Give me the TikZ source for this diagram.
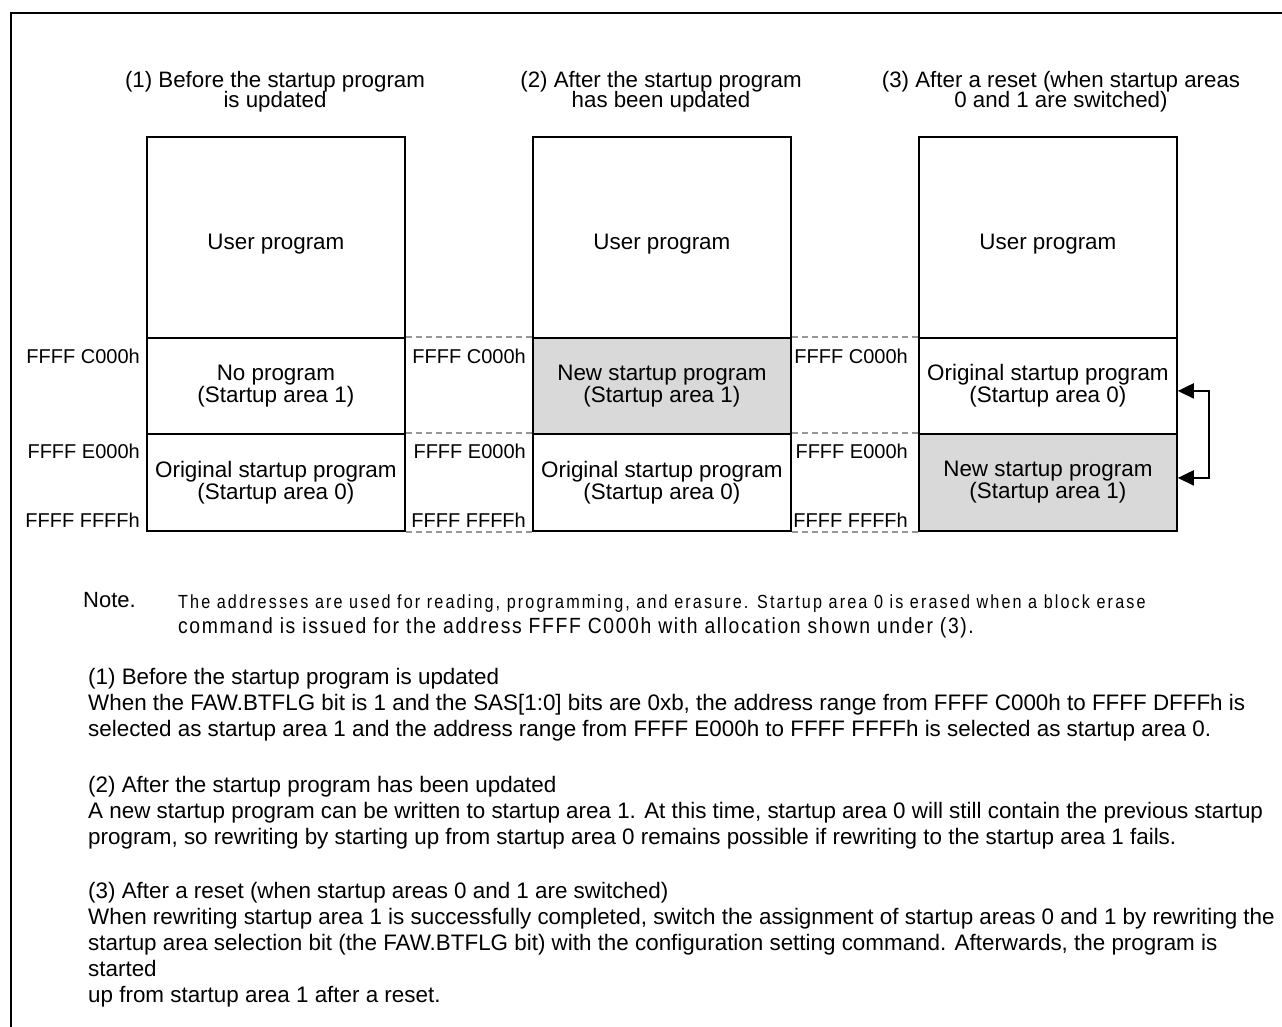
\documentclass[tikz,border=0pt]{standalone}
\usepackage{fontspec}
\setmainfont{Liberation Sans}
\newfontfamily\notefont[FakeStretch=0.85,LetterSpace=11.2]{Liberation Sans}
\newfontfamily\notefontb[FakeStretch=0.88,LetterSpace=7.3]{Liberation Sans}
\usetikzlibrary{arrows.meta}
\definecolor{areafill}{RGB}{217,217,217}
\definecolor{guide}{RGB}{150,150,150}
\tikzset{
  region/.style={draw, line width=1.8pt, inner sep=0pt, minimum width=258pt,
    anchor=north west, align=center,
    font=\fontsize{22.4}{22}\selectfont},
  newprog/.style={region, fill=areafill},
  areatext/.style={inner sep=0pt, font=\fontsize{22.4}{22}\selectfont},
  addr/.style={anchor=base east, inner sep=0pt, font=\fontsize{20}{20}\selectfont},
  title/.style={anchor=base, inner sep=0pt, font=\fontsize{22.3}{22}\selectfont},
  bodyline/.style={anchor=base west, inner sep=0pt, font=\fontsize{22.4}{26}\selectfont},
  guideline/.style={draw=guide, line width=1.4pt, dash pattern=on 6pt off 4pt},
  swaparrow/.style={line width=2pt,
    arrows={Triangle[length=16pt,width=15pt]-Triangle[length=16pt,width=15pt]}}
}
\begin{document}
\begin{tikzpicture}[x=1pt,y=-1pt]
\useasboundingbox (0,0) rectangle (1282,1026);
% outer frame, running off the right and bottom edges
\draw[line width=2.6pt] (11,1030) -- (11,13) -- (1290,13);

% column titles
\node[title] (t1a) at (275,87)  {(1) Before the startup program};
\node[title] (t1b) at (275,107) {is updated};
\node[title] (t2a) at (661,87)  {(2) After the startup program};
\node[title] (t2b) at (661,107) {has been updated};
\node[title] (t3a) at (1061,87) {(3) After a reset (when startup areas};
\node[title] (t3b) at (1061,107) {0 and 1 are switched)};

% memory map (1)
\node[region, minimum height=201pt] (user1) at (146,136) {};
\node[areatext] (ut1) at ([yshift=-7pt]user1.center) {User program};
\node[region, minimum height=96pt]  (mid1)  at (146,337) {No program\\(Startup area 1)};
\node[region, minimum height=97pt]  (low1)  at (146,433) {Original startup program\\(Startup area 0)};

% memory map (2)
\node[region, minimum height=201pt] (user2) at (532,136) {};
\node[areatext] (ut2) at ([yshift=-7pt]user2.center) {User program};
\node[newprog, minimum height=96pt] (mid2)  at (532,337) {New startup program\\(Startup area 1)};
\node[region, minimum height=97pt]  (low2)  at (532,433) {Original startup program\\(Startup area 0)};

% memory map (3)
\node[region, minimum height=201pt] (user3) at (918,136) {};
\node[areatext] (ut3) at ([yshift=-7pt]user3.center) {User program};
\node[region, minimum height=96pt]  (mid3)  at (918,337) {Original startup program\\(Startup area 0)};
\node[newprog, minimum height=97pt] (low3)  at (918,433) {New startup program\\(Startup area 1)};

% dashed boundary guides between the maps
\draw[guideline] (mid1.north east) -- (mid2.north west);
\draw[guideline] (low1.north east) -- (low2.north west);
\draw[guideline] (low1.south east) -- (low2.south west);
\draw[guideline] (mid2.north east) -- (mid3.north west);
\draw[guideline] (low2.north east) -- (low3.north west);
\draw[guideline] (low2.south east) -- (low3.south west);

% address labels
\node[addr] (a1c) at (140,363) {FFFF C000h};
\node[addr] (a1e) at (140,458) {FFFF E000h};
\node[addr] (a1f) at (140,527) {FFFF FFFFh};
\node[addr] (a2c) at (526,363) {FFFF C000h};
\node[addr] (a2e) at (526,458) {FFFF E000h};
\node[addr] (a2f) at (526,527) {FFFF FFFFh};
\node[addr] (a3c) at (908,363) {FFFF C000h};
\node[addr] (a3e) at (908,458) {FFFF E000h};
\node[addr] (a3f) at (908,527) {FFFF FFFFh};

% area swap arrow
\coordinate (swap) at (1209,433);
\draw[swaparrow] ([yshift=-5pt]mid3.east) -| (swap) |- ([yshift=4.5pt]low3.east);

% note
\node[anchor=base west, inner sep=0pt, font=\fontsize{22}{22}\selectfont] (note) at (83,607) {Note.};
\node[anchor=base west, inner sep=0pt, font=\notefont\fontsize{19}{25}\selectfont] (n1) at (178,608)
  {The addresses are used for reading, programming, and erasure. Startup area 0 is erased when a block erase};
\node[anchor=base west, inner sep=0pt, font=\notefontb\fontsize{22}{25}\selectfont] (n2) at (178,633)
  {command is issued for the address FFFF C000h with allocation shown under (3).};

% explanations
\node[bodyline] (p1a) at (88,684) {(1) Before the startup program is updated};
\node[bodyline] (p1b) at (88,710) {When the FAW.BTFLG bit is 1 and the SAS[1:0] bits are 0xb, the address range from FFFF C000h to FFFF DFFFh is};
\node[bodyline] (p1c) at (88,736) {selected as startup area 1 and the address range from FFFF E000h to FFFF FFFFh is selected as startup area 0.};

\node[bodyline] (p2a) at (88,792) {(2) After the startup program has been updated};
\node[bodyline] (p2b) at (88,818) {A new startup program can be written to startup area 1. At this time, startup area 0 will still contain the previous startup};
\node[bodyline] (p2c) at (88,844) {program, so rewriting by starting up from startup area 0 remains possible if rewriting to the startup area 1 fails.};

\node[bodyline] (p3a) at (88,898) {(3) After a reset (when startup areas 0 and 1 are switched)};
\node[bodyline] (p3b) at (88,924) {When rewriting startup area 1 is successfully completed, switch the assignment of startup areas 0 and 1 by rewriting the};
\node[bodyline] (p3c) at (88,950) {startup area selection bit (the FAW.BTFLG bit) with the configuration setting command. Afterwards, the program is};
\node[bodyline] (p3d) at (88,976) {started};
\node[bodyline] (p3e) at (88,1002) {up from startup area 1 after a reset.};
\end{tikzpicture}
\end{document}
